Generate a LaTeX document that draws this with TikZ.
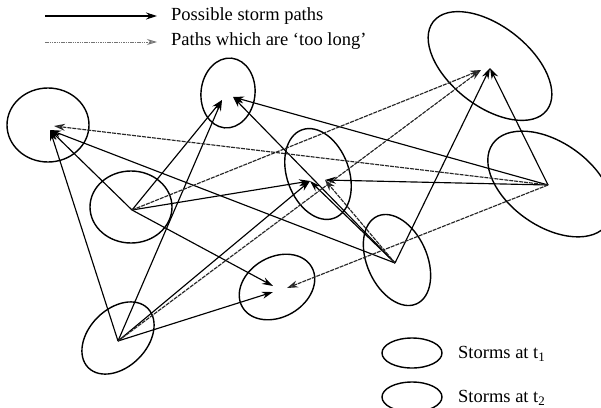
\documentclass[tikz,border=0pt]{standalone}
\usepackage{fontspec}
\setmainfont{Liberation Serif}
\usetikzlibrary{arrows.meta}
\begin{document}
\begin{tikzpicture}[x=1pt,y=-1pt,
  storm/.style={draw=black,line width=1.4pt},
  stormpath/.style={draw=black,line width=1.15pt,-{Stealth[length=11pt,width=7pt]}},
  longpath/.style={draw=black!85,line width=1.15pt,dash pattern=on 4pt off 1pt,-{Stealth[length=11pt,width=7pt,fill=black!60]}},
  legendlong/.style={draw=black!55,line width=1pt,dash pattern=on 1.5pt off 0.8pt,-{Stealth[length=10pt,width=6pt,open,fill=white]}},
  lbl/.style={anchor=west,inner sep=0pt,font=\fontsize{18.5}{20}\selectfont}]
\clip (0,0) rectangle (601,407);
\fill[white] (0,0) rectangle (601,407);
% storm centres (ellipses)
\coordinate (cA) at (131,207);
\coordinate (cB) at (118,338);
\coordinate (cC) at (397,260);
\coordinate (cD) at (550,184);
\coordinate (cE) at (48,125);
\coordinate (cF) at (228,93);
\coordinate (cG) at (318,174);
\coordinate (cH) at (490,66);
\coordinate (cI) at (277,287);
% ellipses
\draw[storm] (cE) ellipse [x radius=41pt, y radius=37pt];
\draw[storm, rotate around={-6:(cF)}] (cF) ellipse [x radius=27pt, y radius=35pt];
\draw[storm] (cA) ellipse [x radius=41pt, y radius=36pt];
\draw[storm, rotate around={45:(cB)}] (cB) ellipse [x radius=42pt, y radius=29pt];
\draw[storm, rotate around={110:(cG)}] (cG) ellipse [x radius=47pt, y radius=31pt];
\draw[storm, rotate around={-38:(cH)}] (cH) ellipse [x radius=72pt, y radius=40pt];
\draw[storm, rotate around={-35:(cD)}] (cD) ellipse [x radius=70pt, y radius=42pt];
\draw[storm, rotate around={114:(cC)}] (cC) ellipse [x radius=48pt, y radius=30pt];
\draw[storm, rotate around={30:(cI)}] (cI) ellipse [x radius=40pt, y radius=30pt];
% path sources (storms at t1)
\coordinate (A) at (132,210);
\coordinate (B) at (118,341);
\coordinate (C) at (395,263);
\coordinate (D) at (548,185);
% path ends (storms at t2)
\coordinate (E1) at (50,130);
\coordinate (E2) at (54,126);
\coordinate (F1) at (222,100);
\coordinate (F2) at (233,97);
\coordinate (G1) at (310,181);
\coordinate (G2) at (325,180);
\coordinate (H1) at (481,70);
\coordinate (H2) at (490,68);
\coordinate (I1) at (273,286);
\coordinate (I2) at (273,292);
\coordinate (I3) at (287,288);
% possible paths
\draw[stormpath] (A) -- (E1);
\draw[stormpath] (B) -- (E1);
\draw[stormpath] (C) -- (E1);
\draw[stormpath] (A) -- (F1);
\draw[stormpath] (B) -- (F1);
\draw[stormpath] (C) -- (F2);
\draw[stormpath] (D) -- (F2);
\draw[stormpath] (A) -- (G1);
\draw[stormpath] (B) -- (G1);
\draw[stormpath] (C) -- (G1);
\draw[stormpath] (D) -- (G2);
\draw[stormpath] (C) -- (H2);
\draw[stormpath] (D) -- (H2);
\draw[stormpath] (A) -- (I1);
\draw[stormpath] (B) -- (I2);
% paths which are too long
\draw[longpath] (D) -- (E2);
\draw[longpath] (C) -- (G2);
\draw[longpath] (A) -- (H1);
\draw[longpath] (B) -- (H1);
\draw[longpath] (D) -- (I3);
% legend (top)
\coordinate (la1) at (45,16);
\coordinate (lb1) at (157,16);
\coordinate (la2) at (45,42);
\coordinate (lb2) at (157,42);
\draw[stormpath] (la1) -- (lb1);
\draw[legendlong] (la2) -- (lb2);
\node[lbl] (t1) at (171,16) {Possible storm paths};
\node[lbl] (t2) at (171,41) {Paths which are ‘too long’};
% legend (bottom)
\coordinate (k1) at (412,353);
\coordinate (k2) at (412,397);
\draw[storm] (k1) ellipse [x radius=30pt, y radius=15pt];
\draw[storm] (k2) ellipse [x radius=30pt, y radius=15pt];
\node[lbl] (s1) at (458,354) {Storms at t\textsubscript{1}};
\node[lbl] (s2) at (458,398) {Storms at t\textsubscript{2}};
\end{tikzpicture}
\end{document}
